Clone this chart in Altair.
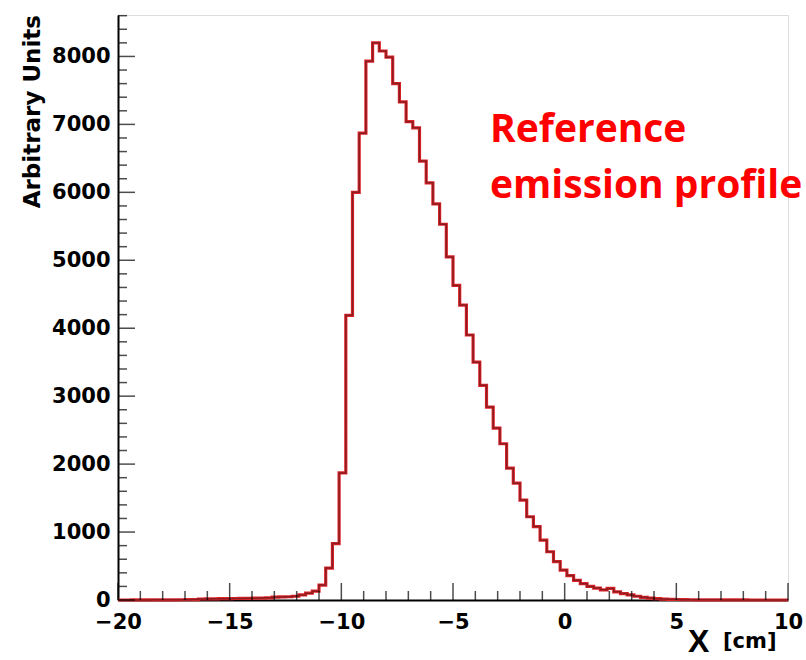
import altair as alt
import pandas as pd

# ---- data ----
x_min = -20.0
bin_width = 0.3
counts = [
    0, 0, 1, 1, 1, 2, 2, 3, 3, 4,
    5, 6, 15, 16, 18, 19, 20, 22, 23, 25,
    27, 29, 32, 42, 45, 48, 55, 75, 100, 130,
    220, 470, 830, 1870, 4190, 6000, 6870, 7930, 8200, 8080,
    7990, 7600, 7330, 7040, 6950, 6460, 6140, 5830, 5530, 5050,
    4630, 4340, 3900, 3500, 3160, 2840, 2530, 2300, 1940, 1720,
    1470, 1225, 1080, 880, 710, 565, 440, 360, 290, 240,
    200, 175, 150, 170, 120, 95, 75, 55, 40, 28,
    20, 14, 10, 7, 5, 4, 3, 3, 2, 2,
    1, 1, 1, 1, 0, 0, 0, 0, 0, 0,
]
x_domain = [-20, 10]
y_domain = [0, 8610]
x_major = [-20, -15, -10, -5, 0, 5, 10]
x_minor = [v for v in range(-20, 11) if v % 5 != 0]
y_major = [0, 1000, 2000, 3000, 4000, 5000, 6000, 7000, 8000]
y_minor = [v for v in range(200, 8601, 200) if v % 1000 != 0]

y_title = "Arbitrary Units"
x_title_main = "X"
x_title_unit = "[cm]"
annotation = ["Reference", "emission profile"]

W, H = 670, 585

edges = [x_min + i * bin_width for i in range(len(counts) + 1)]
hist = pd.DataFrame({"x": edges, "y": counts + [counts[-1]]})

xs = alt.Scale(domain=x_domain, nice=False, zero=False)
ys = alt.Scale(domain=y_domain, nice=False)

label_font = "DejaVu Sans"

x_axis = alt.Axis(
    values=x_major, title=None, ticks=False, grid=False, format="d",
    domainColor="black", domainWidth=2, labelFont=label_font,
    labelFontWeight="bold", labelFontSize=21, labelColor="black",
    labelPadding=11, labelFlush=False, labelOverlap=False)
y_axis = alt.Axis(
    values=y_major, title=None, ticks=False, grid=False, format="d",
    domainColor="black", domainWidth=2, labelFont=label_font,
    labelFontWeight="bold", labelFontSize=21, labelColor="black",
    labelPadding=8, labelFlush=False, labelOverlap=False)

X = lambda f="x:Q": alt.X(f, scale=xs, axis=x_axis)
Y = lambda f="y:Q": alt.Y(f, scale=ys, axis=y_axis)

base_line = alt.Chart(hist).mark_line(
    interpolate="step-after", color="#e0242a", strokeWidth=3.2
).encode(x=X(), y=Y())
top_line = alt.Chart(hist).mark_line(
    interpolate="step-after", color="#8b1c1f", strokeWidth=1.5
).encode(x=X(), y=Y())

xmaj = alt.Chart(pd.DataFrame({"x": x_major})).mark_tick(
    orient="vertical", size=17, thickness=1.5, color="black"
).encode(x=X(), y=alt.value(H - 8.5))
xmin_ = alt.Chart(pd.DataFrame({"x": x_minor})).mark_tick(
    orient="vertical", size=9, thickness=1.5, color="black"
).encode(x=X(), y=alt.value(H - 4.5))
ymaj = alt.Chart(pd.DataFrame({"y": y_major})).mark_tick(
    orient="horizontal", size=17, thickness=1.5, color="black"
).encode(y=Y(), x=alt.value(8.5))
ymin_ = alt.Chart(pd.DataFrame({"y": y_minor})).mark_tick(
    orient="horizontal", size=9, thickness=1.5, color="black"
).encode(y=Y(), x=alt.value(4.5))

one = pd.DataFrame({"k": [0]})
ytitle = alt.Chart(one).mark_text(
    text=y_title, angle=270, align="right", baseline="alphabetic",
    font=label_font, fontWeight="bold", fontSize=23, color="black"
).encode(x=alt.value(-78), y=alt.value(0))
xtitle1 = alt.Chart(one).mark_text(
    text=x_title_main, align="left", baseline="alphabetic",
    font="Liberation Sans", fontWeight="bold", fontSize=32, color="black"
).encode(x=alt.value(570), y=alt.value(637))
xtitle2 = alt.Chart(one).mark_text(
    text=x_title_unit, align="left", baseline="alphabetic",
    font=label_font, fontWeight="bold", fontSize=21, color="black"
).encode(x=alt.value(605), y=alt.value(633))
annot = alt.Chart(one).mark_text(
    text=annotation, align="left", baseline="alphabetic", lineHeight=56,
    font="Open Sans", fontWeight="bold", fontSize=39, color="#ff0000"
).encode(x=alt.value(372), y=alt.value(127))

chart = alt.layer(
    base_line, top_line, xmaj, xmin_, ymaj, ymin_, ytitle, xtitle1, xtitle2, annot
).properties(
    width=W, height=H,
    autosize=alt.AutoSizeParams(type="none"),
    padding={"left": 118, "top": 15, "right": 18, "bottom": 60},
).configure_view(
    stroke="#444444", strokeWidth=1.5
).configure(background="white")

chart.save("out.html", embed_options={"renderer": "svg", "actions": False})
